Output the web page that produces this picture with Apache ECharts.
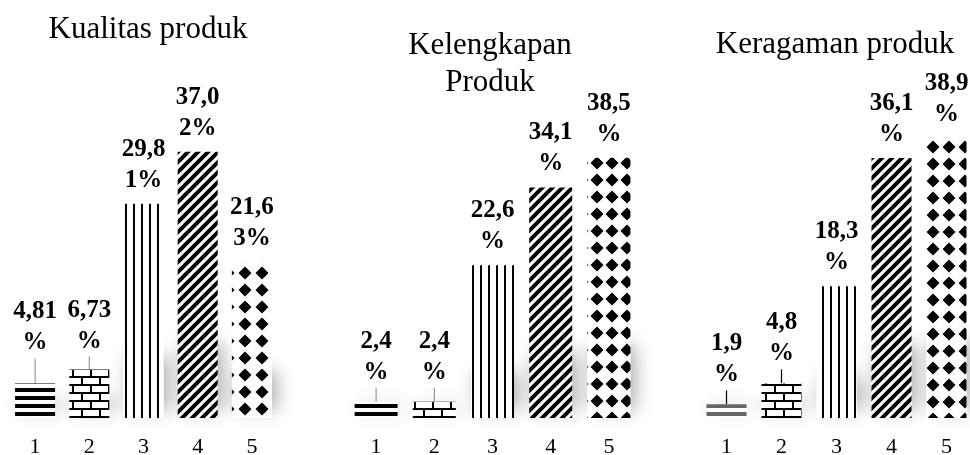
<!DOCTYPE html>
<html>
<head>
<meta charset="utf-8">
<script src="https://cdn.jsdelivr.net/npm/echarts@6/dist/echarts.min.js"></script>
<style>
  html, body { margin: 0; padding: 0; background: #fff; }
  #chart { width: 970px; height: 455px; }
</style>
</head>
<body>
<div id="chart"></div>
<script>
// Response categories (1 = lowest, 5 = highest)
const categories = ['1', '2', '3', '4', '5'];

// Share of respondents per category (%)
const qualityValues = [4.81, 6.73, 29.81, 37.02, 21.63];
const completenessValues = [2.4, 2.4, 22.6, 34.1, 38.5];
const varietyValues = [1.9, 4.8, 18.3, 36.1, 38.9];

const panelTitles = ['Kualitas produk', 'Kelengkapan\nProduk', 'Keragaman produk'];
const panelDecimals = [2, 1, 1];

const SERIF = '"Liberation Serif", "Times New Roman", serif';

// ---- fill patterns (one per category) ----
function tile(w, h, draw, ink) {
  const c = document.createElement('canvas');
  c.width = w; c.height = h;
  const g = c.getContext('2d');
  g.fillStyle = '#fff';
  g.fillRect(0, 0, w, h);
  g.fillStyle = ink || '#000';
  g.strokeStyle = ink || '#000';
  draw(g, w, h);
  return { image: c, repeat: 'repeat' };
}
function hStripes(ink) {
  return tile(8, 8, g => g.fillRect(0, 4, 8, 4), ink);
}
const bricks = tile(18, 16, g => {
  g.fillRect(0, 0, 18, 2);
  g.fillRect(0, 8, 18, 2);
  g.fillRect(0, 0, 2, 8);
  g.fillRect(9, 8, 2, 8);
});
function vStripes(ox) {
  return tile(8, 8, g => g.fillRect(ox, 0, 2, 8));
}
const diagStripes = tile(10, 10, g => {
  g.lineWidth = 4;
  g.lineCap = 'square';
  g.beginPath();
  g.moveTo(-2, 12); g.lineTo(12, -2);
  g.moveTo(-5, 5); g.lineTo(5, -5);
  g.moveTo(5, 15); g.lineTo(15, 5);
  g.stroke();
});
// rounded diamonds on a w x h grid, centred at (ox, oy) inside the tile
function diamonds(w, h, ox, oy) {
  return tile(w, h, g => {
    for (const dx of [-w, 0, w]) {
      for (const dy of [-h, 0, h]) {
        const cx = ox + dx, cy = oy + dy;
        g.beginPath();
        g.moveTo(cx, cy - 6.5);
        g.lineTo(cx + 6.5, cy);
        g.lineTo(cx, cy + 6.5);
        g.lineTo(cx - 6.5, cy);
        g.closePath();
        g.fill();
        g.beginPath();
        g.arc(cx, cy, 4.4, 0, Math.PI * 2);
        g.fill();
      }
    }
  });
}

const panelPatterns = [
  [hStripes('#000'), bricks, vStripes(5), diagStripes, diamonds(17, 17, 7, 1)],
  [hStripes('#000'), bricks, vStripes(0), diagStripes, diamonds(15, 17, 12, 10)],
  [hStripes('#666'), bricks, vStripes(6), diagStripes, diamonds(16, 17, 5, 11)]
];

// ---- layout of the three panels ----
const panels = [
  { values: qualityValues,      left: 8,   width: 271, top: 130.4, barWidth: 40, titleX: 148, titleTop: 11, lift: [-17, -5, 0, 0, 0], leader: '#999' },
  { values: completenessValues, left: 347, width: 291, top: 147.6, barWidth: 43, titleX: 490, titleTop: 27, lift: [-6, -6, 0, 0, 0],  leader: '#999' },
  { values: varietyValues,      left: 699, width: 275, top: 130,   barWidth: 40, titleX: 835, titleTop: 26, lift: [-6, -6, 0, 0, 0],  leader: '#000' }
];

function labelText(v, dec) {
  const s = v.toFixed(dec).replace('.', ',');
  return s.slice(0, 4) + '\n' + s.slice(4) + '%';
}

const option = {
  backgroundColor: '#fff',
  animation: false,
  title: panels.map((p, i) => ({
    text: panelTitles[i],
    left: p.titleX,
    top: p.titleTop,
    padding: 0,
    textAlign: 'center',
    textStyle: { fontFamily: SERIF, fontSize: 31, fontWeight: 'normal', color: '#000', lineHeight: 37 }
  })),
  grid: panels.map(p => ({
    left: p.left, width: p.width, top: p.top, bottom: 37,
    containLabel: false, outerBoundsMode: 'none'
  })),
  xAxis: panels.map((p, i) => ({
    type: 'category',
    gridIndex: i,
    data: categories,
    axisLine: { show: false },
    axisTick: { show: false },
    splitLine: { show: false },
    axisLabel: { fontFamily: SERIF, fontSize: 22, color: '#000', margin: 18 }
  })),
  yAxis: panels.flatMap((p, i) => ([
    { type: 'value', gridIndex: i, min: 0, max: 40, show: false },
    { type: 'value', gridIndex: i, min: 0, max: 160, show: false }
  ])),
  series: panels.flatMap((p, i) => ([
    // soft haze behind the lower part of each column
    {
      type: 'bar',
      xAxisIndex: i,
      yAxisIndex: 2 * i + 1,
      data: p.values,
      barWidth: p.barWidth,
      barGap: '-100%',
      silent: true,
      z: 1,
      itemStyle: {
        color: '#fff',
        shadowBlur: 18,
        shadowColor: 'rgba(0,0,0,0.32)',
        shadowOffsetX: 5,
        shadowOffsetY: -8
      }
    },
    {
      type: 'bar',
      xAxisIndex: i,
      yAxisIndex: 2 * i,
      barWidth: p.barWidth,
      barGap: '-100%',
      z: 2,
      data: p.values.map((v, j) => ({
        value: v,
        itemStyle: { color: panelPatterns[i][j] },
        labelLine: { show: p.lift[j] !== 0, lineStyle: { color: p.leader, width: 1.2 } }
      })),
      label: {
        show: true,
        position: 'top',
        distance: 8,
        fontFamily: SERIF,
        fontSize: 25,
        fontWeight: 'bold',
        lineHeight: 31,
        color: '#000',
        formatter: prm => labelText(prm.value, panelDecimals[i])
      },
      labelLayout: prm => ({ dy: p.lift[prm.dataIndex] }),
      labelLine: { show: false }
    }
  ]))
};

const chart = echarts.init(document.getElementById('chart'), null, { renderer: 'canvas' });
chart.setOption(option);
</script>
</body>
</html>
